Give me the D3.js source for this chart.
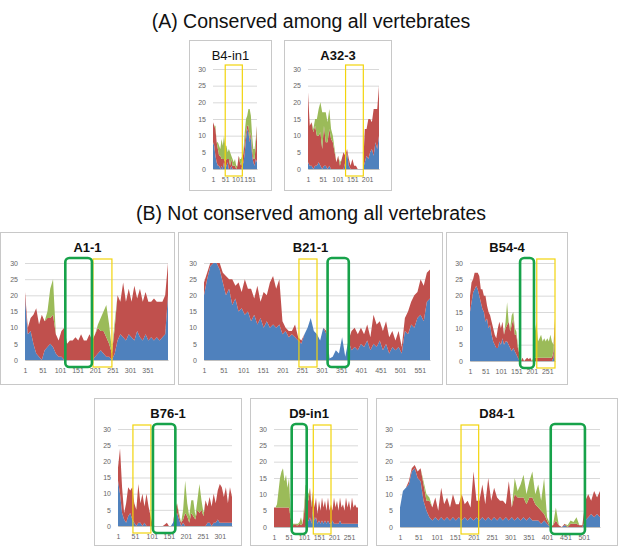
<!DOCTYPE html>
<html>
<head>
<meta charset="utf-8">
<script src="https://cdn.jsdelivr.net/npm/d3@7"></script>
<style>
  body { margin: 0; background: #fff; }
  text { font-family: "Liberation Sans", Arial, sans-serif; }
</style>
</head>
<body>
<svg id="fig" width="621" height="550"></svg>
<script>
// ---- data: per-position counts (stacked: blue, red, green) ----
const yTicks = [0, 5, 10, 15, 20, 25, 30];

const b4in1Step = 5;
const b4in1Blue = [8,7,4,2,1,1,0,1,0,2,0,1,2,0,0,1,0,0,0,0,0,0,0,0,1,2,5,9,12,11,8,10,4,2,1,3,2];
const b4in1Red = [6,6,8,6,5,3,4,2,3,1,2,2,1,3,1,2,1,1,1,0,1,4,2,1,2,3,3,2,1,2,1,1,2,1,2,4,11];
const b4in1Green = [0,0,1,0,2,3,2,6,4,7,5,4,2,3,4,1,2,1,2,1,0,0,1,2,1,1,3,4,3,5,9,5,4,3,3,2,0];
const b4in1Ticks = [1, 51, 101, 151];
const b4in1Yellow = [51, 121];

const a323Step = 6;
const a323Blue = [2,1,1,0,1,1,2,1,0,1,1,0,1,0,0,0,0,0,0,0,0,2,5,1,0,0,0,0,0,0,0,0,2,4,3,5,6,4,8,6,10];
const a323Red = [21,12,13,11,12,9,8,10,6,12,7,8,11,9,8,5,2,4,1,3,5,2,1,2,1,3,1,1,0,0,0,0,10,8,12,10,8,14,10,12,15];
const a323Green = [0,0,0,1,2,5,8,9,11,4,9,6,6,3,2,1,0,0,1,0,0,0,0,0,0,0,0,0,0,0,0,0,0,0,0,0,0,0,0,0,0];
const a323Ticks = [1, 51, 101, 151, 201];
const a323Yellow = [128, 188];

const a11Step = 8;
const a11Blue = [19,8,9,5,2,1,0,3,4,5, 4,2,1,1,0,0,0,0,0,0, 0,0,0,0,0,1,2,3,2,1, 1,0,2,6,8,7,6,8,7,6, 9,7,6,8,6,7,6,7,6,7, 8,20];
const a11Red = [2,2,4,9,14,10,14,9,9,8, 10,6,5,8,10,5,6,6,7,6, 8,6,6,8,6,7,8,6,7,6, 4,2,8,14,10,17,12,14,11,17, 10,15,12,13,12,11,13,11,12,11, 12,10];
const a11Green = [0,0,0,0,0,0,0,0,2,9, 11,0,0,0,0,0,0,0,0,0, 0,0,0,0,0,0,1,4,6,10, 6,1,2,0,0,0,0,0,0,0, 0,0,0,0,0,0,0,0,0,0, 0,0];
const a11Ticks = [1, 51, 101, 151, 201, 251, 301, 351];
const a11Yellow = [195, 249];
const a11GreenBox = [116, 192];

const b211Step = 8;
const b211Blue = [20,25,29,30,30,28,24,20,22,17, 19,15,16,14,15,12,14,11,13,10, 12,10,11,10,11,8,9,7,8,7, 6,5,8,10,13,9,8,6,10,8, 0.5,1,3,2,7,1,6,3,4,3, 5,4,6,3,5,4,6,3,5,2, 4,3,4,2,9,8,11,10,13,14, 12,18,19];
const b211Red = [4,2,1,0,0,2,3,6,3,8, 4,9,5,11,7,10,5,12,5,11, 8,14,15,12,14,4,1,2,1,4, 1,1,0,0,0,0,0,0,0,1, 0,0,0,0,0,0,0,6,6,5, 5,4,5,4,9,7,6,6,7,5, 5,3,5,2,4,7,7,10,8,11, 11,9,9];
const b211Green = [];
const b211Ticks = [1, 51, 101, 151, 201, 251, 301, 351, 401, 451, 501, 551];
const b211Yellow = [243, 289];
const b211GreenBox = [316, 370];

const b544Step = 5;
const b544Blue = [15,18,21,22,23,22,20,18,16,15, 12,13,10,11,8,6,5,4,4,6, 5,7,5,6,6,5,4,3,4,3, 2,1,0,0,0,0,0,0,0,0, 0,0,0,0,0,0,0,0,0,0, 0,0,0,0,1,7];
const b544Red = [5,6,4,5,4,5,6,4,6,5, 8,4,5,3,4,4,3,3,6,6, 5,5,3,4,5,7,5,8,9,5, 6,3,2,0,1,0,0.5,1,0.5,1, 0,0,1,1,1,1,1,1,1,1, 1,1,1,1,2,6];
const b544Green = [0,0,0,0,0,0,0,0,0,0, 0,0,0,0,0,0,0,0,0,0, 0,0,0,2,7,0,1,3,2,2, 1,1,0,0,0,0,0,0,0,0, 0,1,8,11,5,6,7,5,6,5, 6,5,7,5,2,0];
const b544Ticks = [1, 51, 101, 151, 201, 251];
const b544Yellow = [217, 276];
const b544GreenBox = [163, 208];

const b761Step = 6;
const b761Blue = [14,10,4,2,1,3,4,2,1,0, 1,1,0,1,0,0,0,0,0,0, 0,0,0,0,0,0,0,1,3,4, 2,0,1,0,0,0,0,0,0,0, 0,0,0,0,1,1,0,1,1,2, 1,1,1,1,1,1,1];
const b761Red = [4,14,8,2,6,9,7,10,6,5, 12,6,10,5,10,6,3,0.5,0,0, 0,0,0,0.5,1,0,0,0,2,3, 1,1,1,4,3,1,4,3,2,5, 4,5,3,8,5,8,6,9,6,9, 12,11,8,11,6,11,8];
const b761Green = [0,0,0,0,0,0,0,0,0,0, 0,0,0,0,0,0,0,0,0,0, 0,0,0,0,0,0,0,0,0,0, 1,0,3,10,4,2,4,5,1,3, 9,3,1,0,0,0,0,0,0,0, 0,0,0,0,0,0,0];
const b761Ticks = [1, 51, 101, 151, 201, 251, 301];
const b761Yellow = [45, 98];
const b761GreenBox = [104, 170];

const d9in1Step = 5;
const d9in1Blue = [0,0,0,0,0,0,0,0,0,0, 0,0,0,0,0,0,0,0,0,0, 0,0,1,2,3,1,6,2,3,1, 2,1,2,1,2,1,2,1,1,2, 1,1,1,1,2,1,1,1,1,1, 1,1,1,1,1,1,1];
const d9in1Red = [6,6,6,6,6,6,6,6,6,6, 6,3,1,0.5,1,0.5,0.5,1,0.5,1, 4,10,8,6,9,5,5,4,6,3, 6,4,7,5,6,4,7,4,6,3, 8,5,7,4,7,5,6,4,8,5, 7,4,8,5,6,5,5];
const d9in1Green = [0,0,1,5,9,11,12,8,10,6, 9,2,0,0.5,0,0.5,0.5,0.5,2.5,0, 2,3,3,2,0,1,0,0,0,0, 0,0,0,0,0,0,0,0,0,0, 0,0,0,0,0,0,0,0,0,0, 0,0,0,0,0,0,0];
const d9in1Ticks = [1, 51, 101, 151, 201, 251];
const d9in1Yellow = [132, 191];
const d9in1GreenBox = [60, 110];

const d841Step = 8;
const d841Blue = [6,11,12,13,17,18,15,14,8,5, 3,2,3,2,3,2,3,2,3,2, 3,2,3,2,3,2,3,2,3,2, 3,2,3,2,3,2,3,2,3,2, 3,2,3,2,3,2,2,2,1,2, 1,0,0,0,0,0,0.5,0,0,0, 0,0,0,2,3,4,3,4,3];
const d841Red = [0,0,0,1,1,1,2,4,5,3, 5,4,6,3,9,5,6,4,7,5, 4,8,4,6,3,15,5,6,10,5, 12,6,9,7,5,6,4,12,3,8, 6,7,6,5,6,7,5,4,4,2, 1,0,0.5,2,0.5,0,0.5,0,1,1, 1,0.5,0.5,6,7,4,8,5,8];
const d841Green = [0,0,0,0,0,0,0,0,1,2, 1,0,0,0,0,0,0,0,0,0, 0,0,0,0,0,0,0,0,0,0, 0,0,0,0,0,0,0,0,0,5, 2,4,7,3,5,8,3,7,3,11, 1,1,0,4,0,0,0,0.5,1,0.5, 2,0,0,0,0,0,0,0,0];
const d841Ticks = [1, 51, 101, 151, 201, 251, 301, 351, 401, 451, 501];
const d841Yellow = [167, 215];
const d841GreenBox = [411, 504];

// ---- layout (pixels) ----
const panels = [
  {title: "B4-in1", bold: false, fs: 13, box: [189, 40, 83, 151], plot: [213, 257, 69, 169],
   step: b4in1Step, blue: b4in1Blue, red: b4in1Red, green: b4in1Green, ticks: b4in1Ticks, yellow: b4in1Yellow},
  {title: "A32-3", bold: true, fs: 13, box: [284, 40, 108, 151], plot: [308, 379, 69, 169],
   step: a323Step, blue: a323Blue, red: a323Red, green: a323Green, ticks: a323Ticks, yellow: a323Yellow},
  {title: "A1-1", bold: true, fs: 13, box: [0, 232, 175, 153], plot: [25, 168, 263, 360],
   step: a11Step, blue: a11Blue, red: a11Red, green: a11Green, ticks: a11Ticks, yellow: a11Yellow, gbox: a11GreenBox},
  {title: "B21-1", bold: true, fs: 13, box: [178, 232, 265, 153], plot: [204, 430, 263, 360],
   step: b211Step, blue: b211Blue, red: b211Red, green: b211Green, ticks: b211Ticks, yellow: b211Yellow, gbox: b211GreenBox},
  {title: "B54-4", bold: true, fs: 13, box: [446, 232, 122, 153], plot: [470, 555, 263, 361],
   step: b544Step, blue: b544Blue, red: b544Red, green: b544Green, ticks: b544Ticks, yellow: b544Yellow, gbox: b544GreenBox},
  {title: "B76-1", bold: true, fs: 13, box: [94, 398, 148, 148], plot: [118, 232, 429, 526],
   step: b761Step, blue: b761Blue, red: b761Red, green: b761Green, ticks: b761Ticks, yellow: b761Yellow, gbox: b761GreenBox},
  {title: "D9-in1", bold: true, fs: 13, box: [250, 398, 118, 148], plot: [274, 358, 429, 527],
   step: d9in1Step, blue: d9in1Blue, red: d9in1Red, green: d9in1Green, ticks: d9in1Ticks, yellow: d9in1Yellow, gbox: d9in1GreenBox},
  {title: "D84-1", bold: true, fs: 13, box: [376, 398, 242, 148], plot: [400, 600, 429, 527],
   step: d841Step, blue: d841Blue, red: d841Red, green: d841Green, ticks: d841Ticks, yellow: d841Yellow, gbox: d841GreenBox}
];

const colors = {blue: "#4f81bd", red: "#c0504d", green: "#9bbb59"};

const svg = d3.select("#fig");

svg.append("text")
  .attr("x", 311).attr("y", 28)
  .attr("text-anchor", "middle")
  .attr("font-size", 19.5)
  .attr("fill", "#111")
  .text("(A) Conserved among all vertebrates");

svg.append("text")
  .attr("x", 311).attr("y", 220)
  .attr("text-anchor", "middle")
  .attr("font-size", 19.5)
  .attr("fill", "#111")
  .text("(B) Not conserved among all vertebrates");

panels.forEach(drawPanel);

function drawPanel(p) {
  let g = svg.append("g");
  let [bx, by, bw, bh] = p.box;
  let [x0, x1, yTop, yBot] = p.plot;

  g.append("rect")
    .attr("x", bx + 0.5).attr("y", by + 0.5)
    .attr("width", bw - 1).attr("height", bh - 1)
    .attr("fill", "#fff")
    .attr("stroke", "#c8c8c8");

  g.append("text")
    .attr("x", bx + bw / 2).attr("y", by + 20)
    .attr("text-anchor", "middle")
    .attr("font-size", p.fs)
    .attr("font-weight", p.bold ? "bold" : "normal")
    .attr("fill", "#111")
    .text(p.title);

  let n = 1 + (p.blue.length - 1) * p.step;
  let x = d3.scaleLinear().domain([1, n]).range([x0, x1]);
  let y = d3.scaleLinear().domain([0, 30]).range([yBot, yTop]);

  // gridlines + y labels
  let yAxis = g.append("g")
    .attr("transform", `translate(${x0},0)`)
    .call(d3.axisLeft(y).tickValues(yTicks).tickSize(-(x1 - x0)).tickPadding(7));
  yAxis.select(".domain").remove();
  yAxis.selectAll("line").attr("stroke", "#d9d9d9");
  yAxis.selectAll("text").attr("font-size", 7).attr("fill", "#666")
    .style("font-family", "Liberation Sans, Arial, sans-serif");

  let rows = p.blue.map((b, i) => ({
    pos: 1 + i * p.step,
    blue: b,
    red: p.red[i] || 0,
    green: p.green[i] || 0
  }));

  let series = d3.stack().keys(["blue", "red", "green"])(rows);

  let area = d3.area()
    .x(d => x(d.data.pos))
    .y0(d => y(d[0]))
    .y1(d => y(Math.min(30, d[1])));

  g.selectAll(".layer")
    .data(series)
    .enter()
    .append("path")
    .attr("class", "layer")
    .attr("d", area)
    .attr("fill", d => colors[d.key]);

  // x axis
  let xAxis = g.append("g")
    .attr("transform", `translate(0,${yBot})`)
    .call(d3.axisBottom(x).tickValues(p.ticks).tickFormat(d3.format("d")).tickSize(0).tickPadding(8));
  xAxis.select(".domain").attr("stroke", "#bfbfbf");
  xAxis.selectAll("text").attr("font-size", 7).attr("fill", "#666")
    .style("font-family", "Liberation Sans, Arial, sans-serif");

  // highlight boxes
  if (p.yellow) {
    g.append("rect")
      .attr("x", x(p.yellow[0])).attr("y", yTop - 4)
      .attr("width", x(p.yellow[1]) - x(p.yellow[0]))
      .attr("height", yBot - yTop + 11)
      .attr("fill", "none")
      .attr("stroke", "#f2d40c")
      .attr("stroke-width", 1.2);
  }
  if (p.gbox) {
    g.append("rect")
      .attr("x", x(p.gbox[0])).attr("y", yTop - 5)
      .attr("width", x(p.gbox[1]) - x(p.gbox[0]))
      .attr("height", yBot - yTop + 12)
      .attr("rx", 4).attr("ry", 4)
      .attr("fill", "none")
      .attr("stroke", "#17a24a")
      .attr("stroke-width", 2.6);
  }
}
</script>
</body>
</html>
